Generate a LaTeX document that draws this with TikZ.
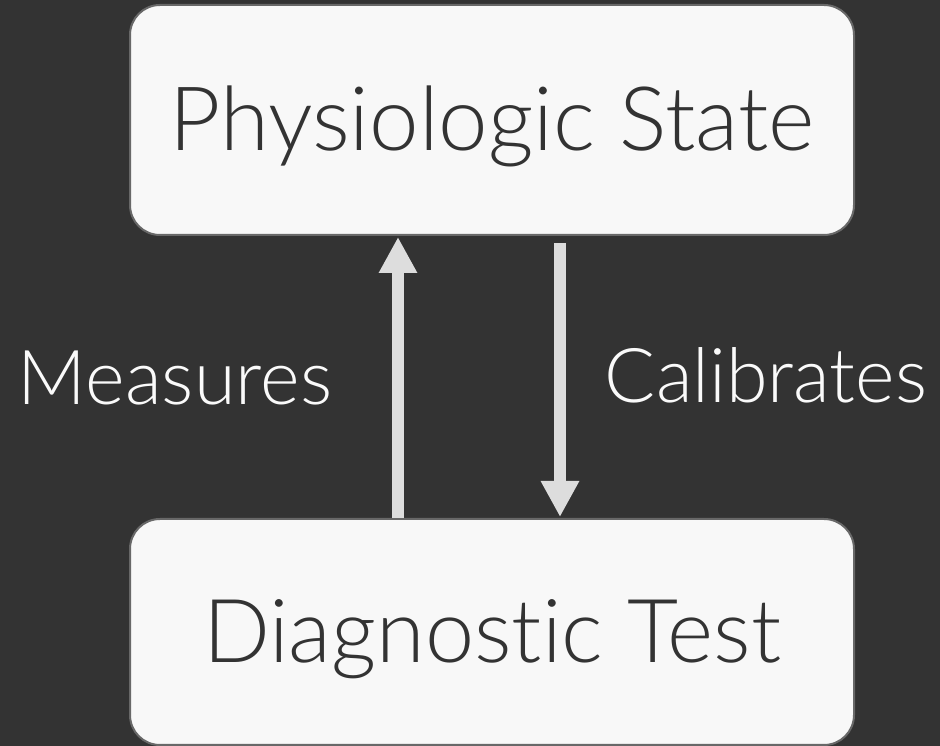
\documentclass[tikz,border=0pt]{standalone}
\usepackage{fontspec}
\setmainfont{Lato}[UprightFont={* Light}, Ligatures={NoCommon}, RawFeature={-liga}]
\usetikzlibrary{arrows.meta}
\definecolor{bgdark}{HTML}{333333}
\definecolor{boxfill}{HTML}{F8F8F8}
\definecolor{boxline}{HTML}{686868}
\definecolor{arrowgray}{HTML}{DDDDDD}
\definecolor{inktext}{HTML}{333333}
\definecolor{labeltext}{HTML}{FAFAFA}
\newcommand{\fitto}[2]{\resizebox{#1}{!}{#2}}
\tikzset{
  statebox/.style={draw=boxline, line width=2pt, fill=boxfill, rounded corners=30pt,
    minimum width=724pt, inner sep=0pt, text=inktext, text height=61pt, text depth=0pt},
  flow/.style={draw=arrowgray, line width=12pt,
    -{Triangle[width=36pt,length=36pt,fill=arrowgray]}},
  flowlabel/.style={text=labeltext, anchor=base, inner sep=0pt}
}
\begin{document}
\begin{tikzpicture}[x=1pt,y=1pt]
  \fill[bgdark] (0,0) rectangle (940,746);
  \useasboundingbox (0,0) rectangle (940,746);
  % the two states
  \node[statebox, minimum height=230pt] (phys) at (492,626) {\fitto{645pt}{Physiologic State}};
  \node[statebox, minimum height=226pt] (diag) at (492,114) {\fitto{578pt}{Diagnostic Test}};
  % columns of the two connectors
  \coordinate (upcol) at (398,0);
  \coordinate (downcol) at (560,0);
  \draw[flow] (diag.north -| upcol) -- ([yshift=-1pt]phys.south -| upcol);
  \draw[flow, shorten <=7pt] (phys.south -| downcol) -- ([yshift=1pt]diag.north -| downcol);
  % connector labels
  \node[flowlabel] (measures) at (175,341) {\fitto{314pt}{Measures}};
  \node[flowlabel] (calibrates) at (766,343) {\fitto{322pt}{Calibrates}};
\end{tikzpicture}
\end{document}
